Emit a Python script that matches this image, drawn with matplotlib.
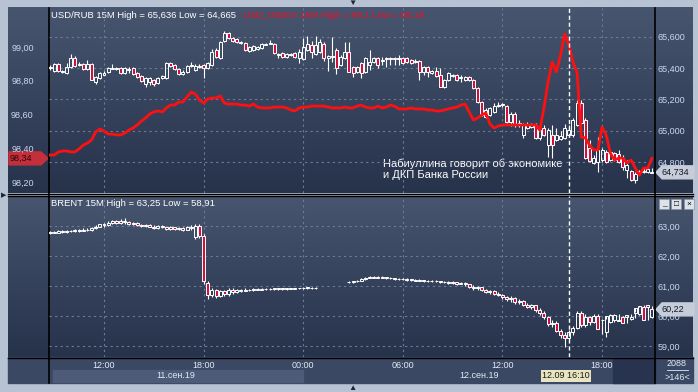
import numpy as np
import matplotlib
matplotlib.use("Agg")
import matplotlib.pyplot as plt
from matplotlib.colors import LinearSegmentedColormap
from matplotlib.patches import Polygon, Rectangle

plt.rcParams["font.family"] = ["Liberation Sans", "DejaVu Sans"]

# 15M bars, hours counted from 11.09.2019 00:00, first bar 08:45
start_hour = 8.75
bar_hours = 0.25
cursor_hour = 40.0
cursor_label = "12.09 16:10"

rub_open = [65.401, 65.381, 65.426, 65.375, 65.369, 65.407, 65.465, 65.420, 65.426, 65.394,
            65.426, 65.311, 65.337, 65.356, 65.375, 65.394, 65.394, 65.401, 65.369, 65.388,
            65.401, 65.369, 65.350, 65.298, 65.311, 65.324, 65.305, 65.337, 65.337, 65.433,
            65.420, 65.394, 65.362, 65.375, 65.413, 65.388, 65.407, 65.420, 65.401, 65.420,
            65.516, 65.465, 65.573, 65.624, 65.592, 65.586, 65.567, 65.560, 65.509, 65.516,
            65.522, 65.528, 65.548, 65.554, 65.554, 65.484, 65.496, 65.471, 65.484, 65.496,
            65.465, 65.458, 65.516, 65.548, 65.490, 65.503, 65.554, 65.465, 65.471, 65.516,
            65.420, 65.465, 65.503, 65.407, 65.375, 65.433, 65.375, 65.420, 65.439, 65.465,
            65.445, 65.458, 65.458, 65.458, 65.458, 65.465, 65.465, 65.452, 65.439, 65.445,
            65.375, 65.407, 65.369, 65.381, 65.356, 65.279, 65.324, 65.350, 65.356, 65.337,
            65.324, 65.343, 65.324, 65.273, 65.183, 65.088, 65.100, 65.119, 65.158, 65.164,
            65.158, 65.056, 65.107, 65.043, 64.973, 65.017, 65.024, 65.036, 64.953, 65.017,
            64.909, 64.973, 64.941, 64.947, 64.953, 64.973, 64.973, 65.036, 65.177, 65.068,
            64.889, 64.794, 64.800, 64.813, 64.864, 64.813, 64.858, 64.851, 64.826, 64.749,
            64.742, 64.685, 64.736, 64.736, 64.736, 64.728]
rub_high = [65.420, 65.433, 65.433, 65.388, 65.433, 65.490, 65.477, 65.439, 65.433, 65.452,
            65.433, 65.350, 65.375, 65.381, 65.407, 65.426, 65.407, 65.407, 65.407, 65.407,
            65.407, 65.375, 65.356, 65.343, 65.343, 65.330, 65.343, 65.356, 65.439, 65.439,
            65.426, 65.401, 65.388, 65.420, 65.439, 65.426, 65.426, 65.426, 65.439, 65.522,
            65.528, 65.573, 65.637, 65.631, 65.599, 65.592, 65.573, 65.567, 65.541, 65.548,
            65.541, 65.560, 65.560, 65.580, 65.560, 65.496, 65.503, 65.496, 65.496, 65.503,
            65.522, 65.592, 65.605, 65.573, 65.605, 65.586, 65.567, 65.484, 65.599, 65.528,
            65.484, 65.567, 65.567, 65.413, 65.413, 65.439, 65.471, 65.516, 65.471, 65.471,
            65.471, 65.471, 65.471, 65.471, 65.484, 65.471, 65.471, 65.458, 65.458, 65.452,
            65.413, 65.413, 65.388, 65.407, 65.401, 65.330, 65.375, 65.362, 65.362, 65.356,
            65.350, 65.350, 65.330, 65.279, 65.190, 65.145, 65.151, 65.177, 65.183, 65.177,
            65.164, 65.119, 65.119, 65.068, 65.049, 65.056, 65.049, 65.049, 65.017, 65.036,
            65.017, 65.036, 65.017, 64.998, 65.043, 65.036, 65.081, 65.196, 65.196, 65.081,
            64.941, 64.845, 64.960, 64.889, 64.877, 64.877, 64.864, 64.877, 64.845, 64.813,
            64.749, 64.736, 64.749, 64.768, 64.768, 64.762]
rub_low = [65.388, 65.375, 65.375, 65.369, 65.362, 65.401, 65.407, 65.413, 65.388, 65.388,
           65.324, 65.298, 65.330, 65.356, 65.369, 65.394, 65.388, 65.362, 65.362, 65.369,
           65.356, 65.337, 65.311, 65.279, 65.292, 65.286, 65.298, 65.330, 65.330, 65.407,
           65.388, 65.356, 65.356, 65.369, 65.407, 65.381, 65.401, 65.337, 65.394, 65.413,
           65.465, 65.458, 65.567, 65.586, 65.567, 65.560, 65.554, 65.509, 65.503, 65.509,
           65.516, 65.522, 65.548, 65.554, 65.490, 65.465, 65.465, 65.465, 65.477, 65.465,
           65.433, 65.452, 65.509, 65.465, 65.484, 65.496, 65.445, 65.381, 65.439, 65.362,
           65.413, 65.458, 65.375, 65.343, 65.369, 65.337, 65.369, 65.388, 65.433, 65.401,
           65.420, 65.407, 65.420, 65.420, 65.420, 65.426, 65.433, 65.426, 65.433, 65.324,
           65.356, 65.343, 65.362, 65.343, 65.279, 65.273, 65.318, 65.343, 65.318, 65.311,
           65.318, 65.318, 65.266, 65.177, 65.094, 65.081, 65.094, 65.113, 65.151, 65.151,
           65.049, 65.030, 65.024, 65.024, 64.953, 65.011, 65.017, 64.947, 64.941, 64.966,
           64.832, 64.826, 64.934, 64.941, 64.947, 64.966, 64.960, 65.030, 65.043, 64.819,
           64.800, 64.787, 64.736, 64.800, 64.794, 64.806, 64.806, 64.794, 64.749, 64.698,
           64.679, 64.666, 64.723, 64.730, 64.730, 64.730]
rub_close = [65.407, 65.426, 65.381, 65.381, 65.407, 65.465, 65.413, 65.426, 65.394, 65.426,
             65.324, 65.343, 65.369, 65.369, 65.401, 65.401, 65.401, 65.369, 65.401, 65.394,
             65.362, 65.343, 65.318, 65.337, 65.337, 65.298, 65.337, 65.350, 65.433, 65.413,
             65.394, 65.362, 65.375, 65.413, 65.420, 65.413, 65.413, 65.401, 65.433, 65.503,
             65.471, 65.567, 65.624, 65.592, 65.573, 65.567, 65.560, 65.516, 65.535, 65.541,
             65.535, 65.554, 65.554, 65.560, 65.496, 65.490, 65.471, 65.490, 65.490, 65.471,
             65.503, 65.535, 65.554, 65.503, 65.548, 65.567, 65.465, 65.477, 65.477, 65.401,
             65.471, 65.503, 65.375, 65.369, 65.407, 65.369, 65.465, 65.439, 65.465, 65.420,
             65.452, 65.465, 65.465, 65.465, 65.465, 65.433, 65.439, 65.433, 65.445, 65.375,
             65.407, 65.375, 65.381, 65.350, 65.279, 65.324, 65.369, 65.356, 65.324, 65.339,
             65.343, 65.324, 65.273, 65.183, 65.100, 65.132, 65.145, 65.158, 65.164, 65.168,
             65.056, 65.107, 65.036, 65.049, 65.036, 65.043, 65.043, 64.953, 65.004, 64.973,
             65.004, 64.909, 64.973, 64.966, 65.017, 65.004, 65.068, 65.177, 65.049, 64.826,
             64.806, 64.826, 64.877, 64.877, 64.800, 64.864, 64.813, 64.800, 64.768, 64.781,
             64.685, 64.723, 64.742, 64.742, 64.755, 64.734]

usd_index = [98.360, 98.360, 98.378, 98.384, 98.384, 98.378, 98.378, 98.396, 98.419, 98.431,
             98.449, 98.496, 98.514, 98.502, 98.484, 98.484, 98.479, 98.479, 98.490, 98.508,
             98.520, 98.538, 98.561, 98.579, 98.603, 98.615, 98.621, 98.615, 98.639, 98.656,
             98.656, 98.674, 98.674, 98.704, 98.733, 98.721, 98.686, 98.668, 98.692, 98.698,
             98.698, 98.710, 98.668, 98.662, 98.662, 98.662, 98.656, 98.656, 98.650, 98.662,
             98.644, 98.639, 98.639, 98.639, 98.644, 98.644, 98.644, 98.639, 98.627, 98.621,
             98.639, 98.644, 98.644, 98.650, 98.650, 98.650, 98.650, 98.644, 98.639, 98.639,
             98.639, 98.644, 98.639, 98.639, 98.650, 98.656, 98.644, 98.639, 98.639, 98.650,
             98.639, 98.644, 98.656, 98.650, 98.633, 98.633, 98.633, 98.639, 98.633, 98.633,
             98.633, 98.627, 98.627, 98.621, 98.621, 98.627, 98.633, 98.639, 98.644, 98.656,
             98.662, 98.615, 98.567, 98.579, 98.597, 98.609, 98.544, 98.520, 98.532, 98.538,
             98.538, 98.538, 98.538, 98.538, 98.538, 98.538, 98.538, 98.538, 98.508, 98.639,
             98.793, 98.911, 98.852, 98.953, 99.077, 99.012, 98.911, 98.846, 98.467, 98.461,
             98.419, 98.390, 98.390, 98.526, 98.479, 98.372, 98.330, 98.342, 98.342, 98.313,
             98.330, 98.283, 98.241, 98.283, 98.283, 98.340]

nan = np.nan
brent_open = [62.75, 62.80, 62.78, 62.82, 62.80, 62.84, 62.82, 62.86, 62.84, 62.88, 62.86,
              62.92, 62.98, 63.05, 63.02, 63.10, 63.15, 63.10, 63.16, 63.12, 63.08,
              63.10, 63.04, 63.00, 63.04, 62.98, 62.94, 62.99, 62.95, 62.90, 62.95, 62.90, 62.93, 62.88,
              62.96, 62.62, 63.00, 62.67, 61.10,
              60.70, 60.85, 60.68, 60.82, 60.72, 60.86,
              60.80, 60.86, 60.84, 60.88, 60.86, 60.89, 60.88, 60.90, 60.89, 60.91,
              60.90, 60.91, 60.90, 60.91, 60.91, 60.92, 60.92, 60.93, 60.93, 60.92,
              nan, nan, nan, nan, nan, nan, nan,
              61.12, 61.13, 61.15, 61.18, 61.22, 61.27, 61.30, 61.28, 61.30, 61.28,
              61.27, 61.25, 61.24, 61.22, 61.23, 61.20, 61.21, 61.18, 61.19, 61.16,
              61.18, 61.15, 61.16, 61.12, 61.14, 61.10, 61.12, 61.08, 61.10,
              61.05, 60.98, 60.92, 60.95, 60.86, 60.80, 60.84, 60.74,
              60.70, 60.62, 60.55, 60.60, 60.45, 60.50, 60.38, 60.30, 60.35, 60.20,
              60.10, 59.95, 59.72, 59.78, 59.50, 59.38, 59.25,
              59.45, 59.60, 60.10, 59.70, 59.95, 59.80, 60.00, 59.85, 59.45, 59.80,
              59.85, 59.88, 59.97, 59.97, 59.90, 60.10, 60.05, 60.30, 60.35, 59.95]
brent_high = [62.83, 62.84, 62.85, 62.85, 62.88, 62.87, 62.90, 62.90, 62.92, 62.92, 62.96,
              63.02, 63.08, 63.10, 63.15, 63.20, 63.20, 63.22, 63.25, 63.16, 63.14,
              63.13, 63.08, 63.08, 63.07, 63.02, 63.03, 63.02, 62.98, 62.99, 62.98, 62.97, 62.96, 63.00,
              63.02, 63.05, 63.05, 62.72, 61.15,
              60.92, 60.90, 60.88, 60.86, 60.92, 60.92,
              60.90, 60.90, 60.92, 60.91, 60.93, 60.92, 60.93, 60.93, 60.94, 60.94,
              60.94, 60.93, 60.93, 60.93, 60.94, 60.94, 60.95, 60.95, 60.95, 60.95,
              nan, nan, nan, nan, nan, nan, nan,
              61.15, 61.17, 61.21, 61.25, 61.30, 61.33, 61.32, 61.33, 61.32, 61.31,
              61.29, 61.28, 61.26, 61.26, 61.25, 61.24, 61.23, 61.22, 61.21, 61.21,
              61.20, 61.19, 61.18, 61.17, 61.16, 61.15, 61.14, 61.13, 61.12,
              61.08, 61.02, 61.00, 60.98, 60.90, 60.88, 60.87, 60.80,
              60.74, 60.66, 60.65, 60.62, 60.56, 60.54, 60.42, 60.40, 60.38, 60.25,
              60.15, 60.00, 59.85, 59.82, 59.55, 59.45, 59.52,
              59.65, 60.18, 60.15, 60.05, 60.00, 60.08, 60.05, 59.90, 59.90, 60.05,
              60.05, 60.06, 60.00, 60.00, 60.05, 60.12, 60.30, 60.38, 60.38, 60.33]
brent_low = [62.72, 62.75, 62.75, 62.77, 62.78, 62.79, 62.80, 62.81, 62.82, 62.83, 62.84,
             62.90, 62.95, 62.98, 63.00, 63.06, 63.06, 63.08, 63.08, 63.04, 63.03,
             63.00, 62.96, 62.97, 62.95, 62.90, 62.91, 62.92, 62.86, 62.87, 62.86, 62.87, 62.84, 62.85,
             62.85, 62.58, 62.60, 61.05, 60.55,
             60.62, 60.60, 60.62, 60.65, 60.68, 60.74,
             60.78, 60.80, 60.82, 60.83, 60.84, 60.85, 60.86, 60.86, 60.87, 60.87,
             60.88, 60.88, 60.88, 60.89, 60.89, 60.90, 60.90, 60.91, 60.91, 60.91,
             nan, nan, nan, nan, nan, nan, nan,
             61.10, 61.11, 61.13, 61.16, 61.20, 61.25, 61.25, 61.26, 61.25, 61.24,
             61.22, 61.21, 61.19, 61.19, 61.17, 61.18, 61.15, 61.15, 61.13, 61.14,
             61.12, 61.12, 61.09, 61.10, 61.07, 61.07, 61.04, 61.05, 61.00,
             60.94, 60.88, 60.86, 60.82, 60.76, 60.74, 60.70, 60.65,
             60.56, 60.50, 60.48, 60.40, 60.40, 60.33, 60.25, 60.22, 60.12, 60.02,
             59.90, 59.65, 59.62, 59.45, 59.25, 58.95, 59.15,
             59.35, 59.55, 59.62, 59.62, 59.70, 59.75, 59.80, 59.40, 59.30, 59.75,
             59.80, 59.85, 59.78, 59.75, 59.88, 59.92, 60.02, 60.28, 59.85, 59.92]
brent_close = [62.80, 62.78, 62.82, 62.80, 62.84, 62.82, 62.86, 62.84, 62.88, 62.86, 62.92,
               62.98, 63.05, 63.02, 63.10, 63.15, 63.10, 63.16, 63.12, 63.08, 63.10,
               63.04, 63.00, 63.04, 62.98, 62.94, 62.99, 62.95, 62.90, 62.95, 62.90, 62.93, 62.88, 62.96,
               62.92, 63.00, 62.65, 61.15, 60.70,
               60.85, 60.68, 60.82, 60.72, 60.86, 60.80,
               60.86, 60.84, 60.88, 60.86, 60.89, 60.88, 60.90, 60.89, 60.91, 60.90,
               60.91, 60.90, 60.91, 60.91, 60.92, 60.92, 60.93, 60.93, 60.92, 60.93,
               nan, nan, nan, nan, nan, nan, nan,
               61.13, 61.15, 61.18, 61.22, 61.27, 61.30, 61.28, 61.30, 61.28, 61.27,
               61.25, 61.24, 61.22, 61.23, 61.20, 61.21, 61.18, 61.19, 61.16, 61.18,
               61.15, 61.16, 61.12, 61.14, 61.10, 61.12, 61.08, 61.10, 61.05,
               60.98, 60.92, 60.95, 60.86, 60.80, 60.84, 60.74, 60.70,
               60.62, 60.55, 60.60, 60.45, 60.50, 60.38, 60.30, 60.35, 60.20, 60.10,
               59.95, 59.72, 59.78, 59.50, 59.38, 59.25, 59.45,
               59.60, 60.10, 59.70, 59.95, 59.80, 60.00, 59.55, 59.85, 60.00, 60.02,
               60.03, 59.82, 59.78, 60.02, 59.95, 60.27, 60.33, 59.88, 60.30, 60.22]

rub_ticks = [64.8, 65.0, 65.2, 65.4, 65.6]
idx_ticks = [98.2, 98.4, 98.6, 98.8, 99.0]
brent_ticks = [59.0, 60.0, 61.0, 62.0, 63.0]
time_ticks = [12, 18, 24, 30, 36, 42]
time_labels = ["12:00", "18:00", "00:00", "06:00", "12:00", "18:00"]
day_labels = ["11.сен.19", "12.сен.19"]

# colours
BORDER = "#b7c3d3"
PANEL_TOP = "#47556f"
PANEL_BOT = "#27324b"
GRID = "#6c7c99"
TICK_C = "#c9d8ee"
RED_LINE = "#ff1010"
RED_BODY = "#d0103c"

W, H = 698, 392
fig = plt.figure(figsize=(W / 100, H / 100), dpi=100)
fig.patch.set_facecolor(BORDER)


def rect(x0, y0, x1, y1):
    return [x0 / W, 1 - y1 / H, (x1 - x0) / W, (y1 - y0) / H]


# background in pixel coordinates
bg = fig.add_axes([0, 0, 1, 1], zorder=0)
bg.axis("off")
cmap = LinearSegmentedColormap.from_list("panel", [PANEL_TOP, PANEL_BOT])
grad = np.linspace(0, 1, 64).reshape(-1, 1)
bg.imshow(grad, extent=(8, 693, 193, 7.5), cmap=cmap, aspect="auto")
bg.imshow(grad, extent=(8, 693, 357, 196), cmap=cmap, aspect="auto")
bg.add_patch(Rectangle((8, 357), 685, 26, color="#3a4864"))
bg.add_patch(Rectangle((53, 370), 250, 12, color="#4d5b78"))
bg.add_patch(Rectangle((613, 358), 42, 25, color="#283350"))
bg.plot([49, 49], [7.5, 383], color="black", lw=1.2)
bg.plot([655, 655], [7.5, 383], color="black", lw=1.2)
for yy in (193.5, 196, 357.5):
    bg.plot([8, 693], [yy, yy], color="black", lw=1.0)
bg.set_xlim(0, W)
bg.set_ylim(H, 0)

x0, x1 = 8.687, 45.19
t = start_hour + bar_hours * np.arange(len(rub_close))
BODY_W = 0.18


def draw_candles(ax, o, h, l, c, min_body):
    o, h, l, c = (np.asarray(a, dtype=float) for a in (o, h, l, c))
    ok = ~np.isnan(c)
    tt, o, h, l, c = t[ok], o[ok], h[ok], l[ok], c[ok]
    up = c >= o
    lo = np.minimum(o, c)
    hi = np.maximum(o, c)
    ax.vlines(tt, l, lo, color="white", lw=0.8, zorder=3)
    ax.vlines(tt, hi, h, color="white", lw=0.8, zorder=3)
    hgt = np.maximum(hi - lo, min_body)
    ax.bar(tt[up], hgt[up], BODY_W, bottom=lo[up], facecolor="none",
           edgecolor="white", lw=0.7, zorder=4)
    ax.bar(tt[~up], hgt[~up], BODY_W, bottom=lo[~up], facecolor=RED_BODY,
           edgecolor="white", lw=0.7, zorder=4)


def style(ax):
    ax.set_facecolor("none")
    for s in ax.spines.values():
        s.set_visible(False)
    ax.tick_params(length=0, colors=TICK_C, labelsize=6.5)


# ---- top panel: USD/RUB (right) + USD_INDEX (left) ----
ax1 = fig.add_axes(rect(49, 7.5, 655, 193), zorder=2)
ax2 = ax1.twinx()
style(ax1)
style(ax2)
ax1.set_xlim(x0, x1)
ax1.set_ylim(64.602, 65.787)
ax1.yaxis.tick_right()
ax1.set_yticks(rub_ticks)
ax1.set_yticklabels([f"{v:.3f}".replace(".", ",") for v in rub_ticks])
ax1.tick_params(axis="y", pad=2)
ax1.set_xticks(time_ticks)
ax1.tick_params(labelbottom=False)
ax1.grid(True, color=GRID, lw=0.8, ls=(0, (2, 3)))
draw_candles(ax1, rub_open, rub_high, rub_low, rub_close, 0.004)

ax2.set_ylim(98.135, 99.234)
ax2.yaxis.tick_left()
ax2.set_yticks(idx_ticks)
ax2.set_yticklabels([f"{v:.2f}".replace(".", ",") for v in idx_ticks])
ax2.tick_params(axis="y", pad=11)
ax2.plot(t, usd_index, color=RED_LINE, lw=2.0, zorder=5)
ax2.axvline(cursor_hour, color="white", lw=1.0, ls=(0, (3, 2)), zorder=6)

# ---- bottom panel: BRENT ----
ax3 = fig.add_axes(rect(49, 196, 655, 357), zorder=2)
style(ax3)
ax3.set_xlim(x0, x1)
ax3.set_ylim(58.633, 64.0)
ax3.yaxis.tick_right()
ax3.set_yticks(brent_ticks)
ax3.set_yticklabels([f"{v:.2f}".replace(".", ",") for v in brent_ticks])
ax3.tick_params(axis="y", pad=2)
ax3.set_xticks(time_ticks)
ax3.set_xticklabels(time_labels, color="#e2eaf6")
ax3.tick_params(axis="x", pad=3)
ax3.grid(True, color=GRID, lw=0.8, ls=(0, (2, 3)))
draw_candles(ax3, brent_open, brent_high, brent_low, brent_close, 0.02)
ax3.axvline(cursor_hour, color="white", lw=1.0, ls=(0, (3, 2)), zorder=6)

fig.canvas.draw()


def to_px(ax, x, y):
    dx, dy = ax.transData.transform((x, y))
    return dx, H - dy


# titles
bg.text(51, 15, "USD/RUB 15M High = 65,636 Low = 64,665", color="white",
        fontsize=6.8, va="center")
bg.text(243, 15, "USD_INDEX 15M High = 99,1 Low = 98,19", color="#ec1028",
        fontsize=6.8, va="center")
bg.text(51, 203, "BRENT 15M High = 63,25 Low = 58,91", color="white",
        fontsize=6.8, va="center")
bg.text(383, 169, "Набиуллина говорит об экономике\nи ДКП Банка России",
        color="white", fontsize=8, va="center", linespacing=1.15)

# last value flags
_, yi = to_px(ax2, t[-1], usd_index[-1])
bg.add_patch(Polygon([(9, yi - 6.5), (41, yi - 6.5), (48, yi), (41, yi + 6.5), (9, yi + 6.5)],
                     closed=True, color="#c3303c"))
bg.text(10, yi, f"{usd_index[-1]:.2f}".replace(".", ","), color="#2a0606",
        fontsize=6.5, va="center")
for ax, val, fmt in ((ax1, rub_close[-1], "{:.3f}"), (ax3, brent_close[-1], "{:.2f}")):
    _, yv = to_px(ax, t[-1], val)
    bg.add_patch(Polygon([(656, yv), (662, yv - 6.5), (694, yv - 6.5), (694, yv + 6.5), (662, yv + 6.5)],
                         closed=True, color="#c6cdd8"))
    bg.text(661, yv, fmt.format(val).replace(".", ","), color="#101828", fontsize=6.5, va="center")

# day labels centred in visible part of each day
for lbl, (a, b) in zip(day_labels, ((x0, 24), (24, x1))):
    xa, _ = to_px(ax3, a, 0)
    xb, _ = to_px(ax3, b, 0)
    bg.text((xa + xb) / 2, 376, lbl, color="#e2eaf6", fontsize=6.5, ha="center", va="center")

# cursor time box
xc, _ = to_px(ax3, cursor_hour, 0)
bg.text(xc - 3, 376, cursor_label, color="#1a1a10", fontsize=6.5, ha="center", va="center",
        bbox=dict(boxstyle="square,pad=0.15", fc="#e9e5c2", ec="none"))

# right-bottom counters and small window buttons
bg.text(677, 364, "2088", color="#e2eaf6", fontsize=6.5, ha="center", va="center")
bg.plot([667, 688], [370, 370], color="#e2eaf6", lw=0.6)
bg.text(677, 377, ">146<", color="#e2eaf6", fontsize=6.5, ha="center", va="center")
for bx, glyph in ((659, "_"), (671, "□"), (684, "×")):
    bg.add_patch(Rectangle((bx, 199), 10, 10, fc="#dde1e8", ec="#8a93a3", lw=0.5))
    bg.text(bx + 5, 204, glyph, color="black", fontsize=6, ha="center", va="center")

bg.text(352, 3, "▼", color="#1e2838", fontsize=6, ha="center", va="center")
bg.text(352, 388, "▲", color="#1e2838", fontsize=6, ha="center", va="center")
bg.text(3.5, 196, "▶", color="#1e2838", fontsize=5, ha="center", va="center")

bg.set_xlim(0, W)
bg.set_ylim(H, 0)
fig.savefig("out.png", dpi=100, facecolor=BORDER)
